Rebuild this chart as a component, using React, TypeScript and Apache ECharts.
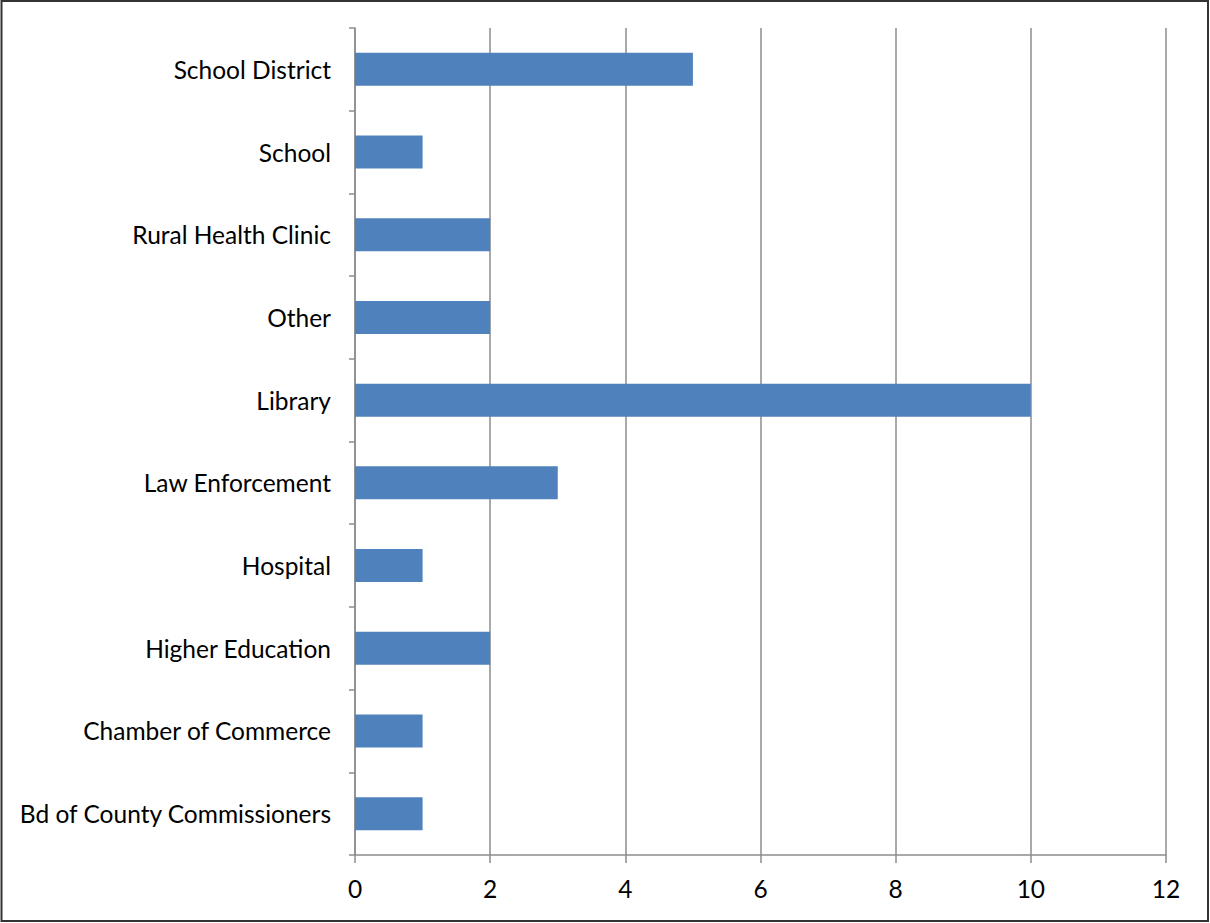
import React, { useEffect, useRef } from "react";
import * as echarts from "echarts";

const categories = [
  "Bd of County Commissioners",
  "Chamber of Commerce",
  "Higher Education",
  "Hospital",
  "Law Enforcement",
  "Library",
  "Other",
  "Rural Health Clinic",
  "School",
  "School District",
];
const values = [1, 1, 2, 1, 3, 10, 2, 2, 1, 5];
const xMin = 0;
const xMax = 12;
const xInterval = 2;

const FONT = "Lato, 'Open Sans', sans-serif";

export default function App() {
  const ref = useRef<HTMLDivElement>(null);
  useEffect(() => {
    if (!ref.current) return;
    const chart = echarts.init(ref.current, undefined, { renderer: "svg" });
    chart.setOption({
      animation: false,
      backgroundColor: "#ffffff",
      grid: { left: 355, right: 44, top: 28, bottom: 68, containLabel: false },
      graphic: [
        {
          type: "rect",
          shape: { x: 1.5, y: 1, width: 1206.5, height: 920 },
          style: { fill: "none", stroke: "#333333", lineWidth: 2 },
          silent: true,
        },
      ],
      xAxis: {
        type: "value",
        min: xMin,
        max: xMax,
        interval: xInterval,
        axisLine: { show: true, lineStyle: { color: "#8c8c8c", width: 1.5 } },
        axisTick: { show: true, length: 8, lineStyle: { color: "#8c8c8c", width: 1.5 } },
        splitLine: { show: true, lineStyle: { color: "#8c8c8c", width: 1.5 } },
        axisLabel: { color: "#000", fontSize: 24.5, fontFamily: FONT, margin: 21 },
      },
      yAxis: {
        type: "category",
        data: categories,
        axisLine: { show: true, lineStyle: { color: "#8c8c8c", width: 1.5 } },
        axisTick: { show: true, length: 6, lineStyle: { color: "#8c8c8c", width: 1.5 } },
        axisLabel: { color: "#000", fontSize: 24.5, fontFamily: FONT, margin: 24 },
        splitLine: { show: false },
      },
      series: [
        {
          type: "bar",
          data: values,
          barWidth: 33,
          itemStyle: { color: "#4F81BD" },
        },
      ],
    });
    return () => chart.dispose();
  }, []);
  return (
    <div
      ref={ref}
      style={{ position: "fixed", left: 0, top: 0, width: 1210, height: 923 }}
    />
  );
}
